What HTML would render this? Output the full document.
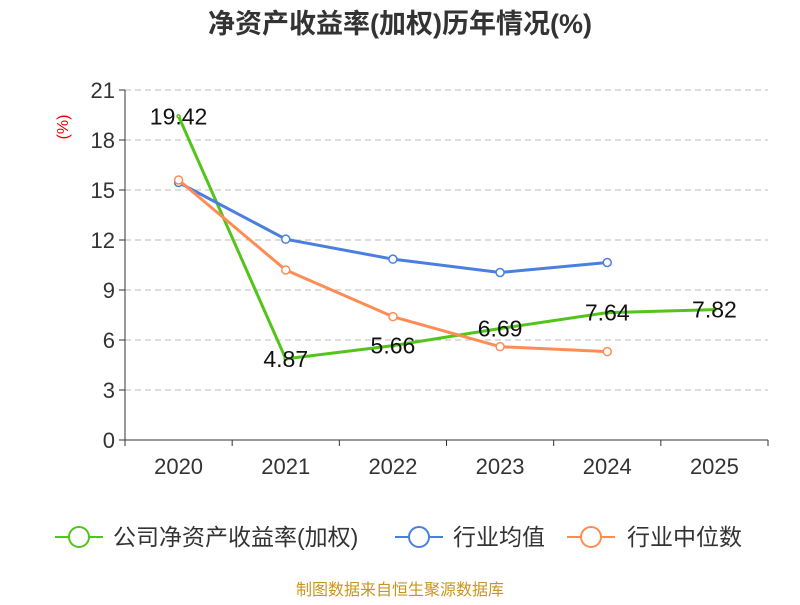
<!DOCTYPE html>
<html><head><meta charset="utf-8"><style>
body{margin:0;background:#fff;font-family:"Liberation Sans","Noto Sans CJK SC",sans-serif}
</style></head><body>
<svg id="chart" width="800" height="600" xmlns="http://www.w3.org/2000/svg" font-family="Liberation Sans, Noto Sans CJK SC, sans-serif">
<text x="400" y="33" text-anchor="middle" font-size="27" font-weight="bold" fill="#333">净资产收益率(加权)历年情况(%)</text>
<text x="68" y="127" transform="rotate(-90 68 127)" text-anchor="middle" font-size="16" fill="#e00">(%)</text>
<g id="grid"></g><g id="axes"></g><g id="series"></g>
<g font-size="23" fill="#333">
<g><line x1="55" y1="537" x2="103" y2="537" stroke="#52c41a" stroke-width="2"/><circle cx="79" cy="537" r="10" fill="#fff" stroke="#52c41a" stroke-width="2"/><text x="113" y="545">公司净资产收益率(加权)</text></g>
<g><line x1="395" y1="537" x2="443" y2="537" stroke="#4a7fe0" stroke-width="2"/><circle cx="419" cy="537" r="10" fill="#fff" stroke="#4a7fe0" stroke-width="2"/><text x="453" y="545">行业均值</text></g>
<g><line x1="567" y1="537" x2="615" y2="537" stroke="#ff8c55" stroke-width="2"/><circle cx="591" cy="537" r="10" fill="#fff" stroke="#ff8c55" stroke-width="2"/><text x="627" y="545">行业中位数</text></g>
</g>
<text x="400" y="595" text-anchor="middle" font-size="16" fill="#c8961e">制图数据来自恒生聚源数据库</text>
</svg>
<script>
const categories=["2020","2021","2022","2023","2024","2025"];
const companyValues=[19.42,4.87,5.66,6.69,7.64,7.82];
const industryAvg=[15.45,12.05,10.85,10.05,10.65];
const industryMedian=[15.6,10.2,7.4,5.6,5.3];
const yTicks=[0,3,6,9,12,15,18,21];
const NS="http://www.w3.org/2000/svg";
const x0=125,x1=768,y0=440,y1=90,yMax=21;
const step=(x1-x0)/categories.length;
const xs=i=>x0+step*(i+0.5);
const ys=v=>y0-(v/yMax)*(y0-y1);
function mk(tag,attrs,parent){const e=document.createElementNS(NS,tag);for(const k in attrs)e.setAttribute(k,attrs[k]);parent.appendChild(e);return e;}
const grid=document.getElementById('grid'),axes=document.getElementById('axes'),ser=document.getElementById('series');
yTicks.forEach(t=>{
 const y=ys(t);
 if(t>0){const l=mk('line',{x1:x0,x2:x1,y1:y,y2:y,stroke:'#bbb','stroke-dasharray':'6,4'},grid);
 
 }
 mk('line',{x1:x0-6,x2:x0,y1:y,y2:y,stroke:'#333'},axes);
 const tx=mk('text',{x:x0-10,y:y+8,'text-anchor':'end','font-size':22,fill:'#333'},axes);tx.textContent=t;
 
 
});
mk('line',{x1:x0,x2:x0,y1:y1,y2:y0,stroke:'#333'},axes);
mk('line',{x1:x0,x2:x1,y1:y0,y2:y0,stroke:'#333'},axes);
for(let i=0;i<=categories.length;i++){mk('line',{x1:x0+step*i,x2:x0+step*i,y1:y0,y2:y0+6,stroke:'#333'},axes);}
categories.forEach((c,i)=>{const t=mk('text',{x:xs(i),y:y0+34,'text-anchor':'middle','font-size':22,fill:'#333'},axes);t.textContent=c;
 
 });
function line(vals,color,name,markers){
 const g=mk('g',{},ser);
 
 
 mk('polyline',{points:vals.map((v,i)=>xs(i)+','+ys(v)).join(' '),fill:'none',stroke:color,'stroke-width':3},g);
 vals.forEach((v,i)=>{const c=mk('circle',{cx:xs(i),cy:ys(v),r:markers,fill:'#fff',stroke:color,'stroke-width':1.5},g);
 
 });
}
line(companyValues,'#52c41a','company-roe-line',1.5);
line(industryAvg,'#4a7fe0','industry-average-line',4);
line(industryMedian,'#ff8c55','industry-median-line',4);
companyValues.forEach((v,i)=>{const t=mk('text',{x:xs(i),y:ys(v)+8,'text-anchor':'middle','font-size':23,fill:'#111'},ser);t.textContent=v.toFixed(2);
 
 });
</script>
</body></html>
